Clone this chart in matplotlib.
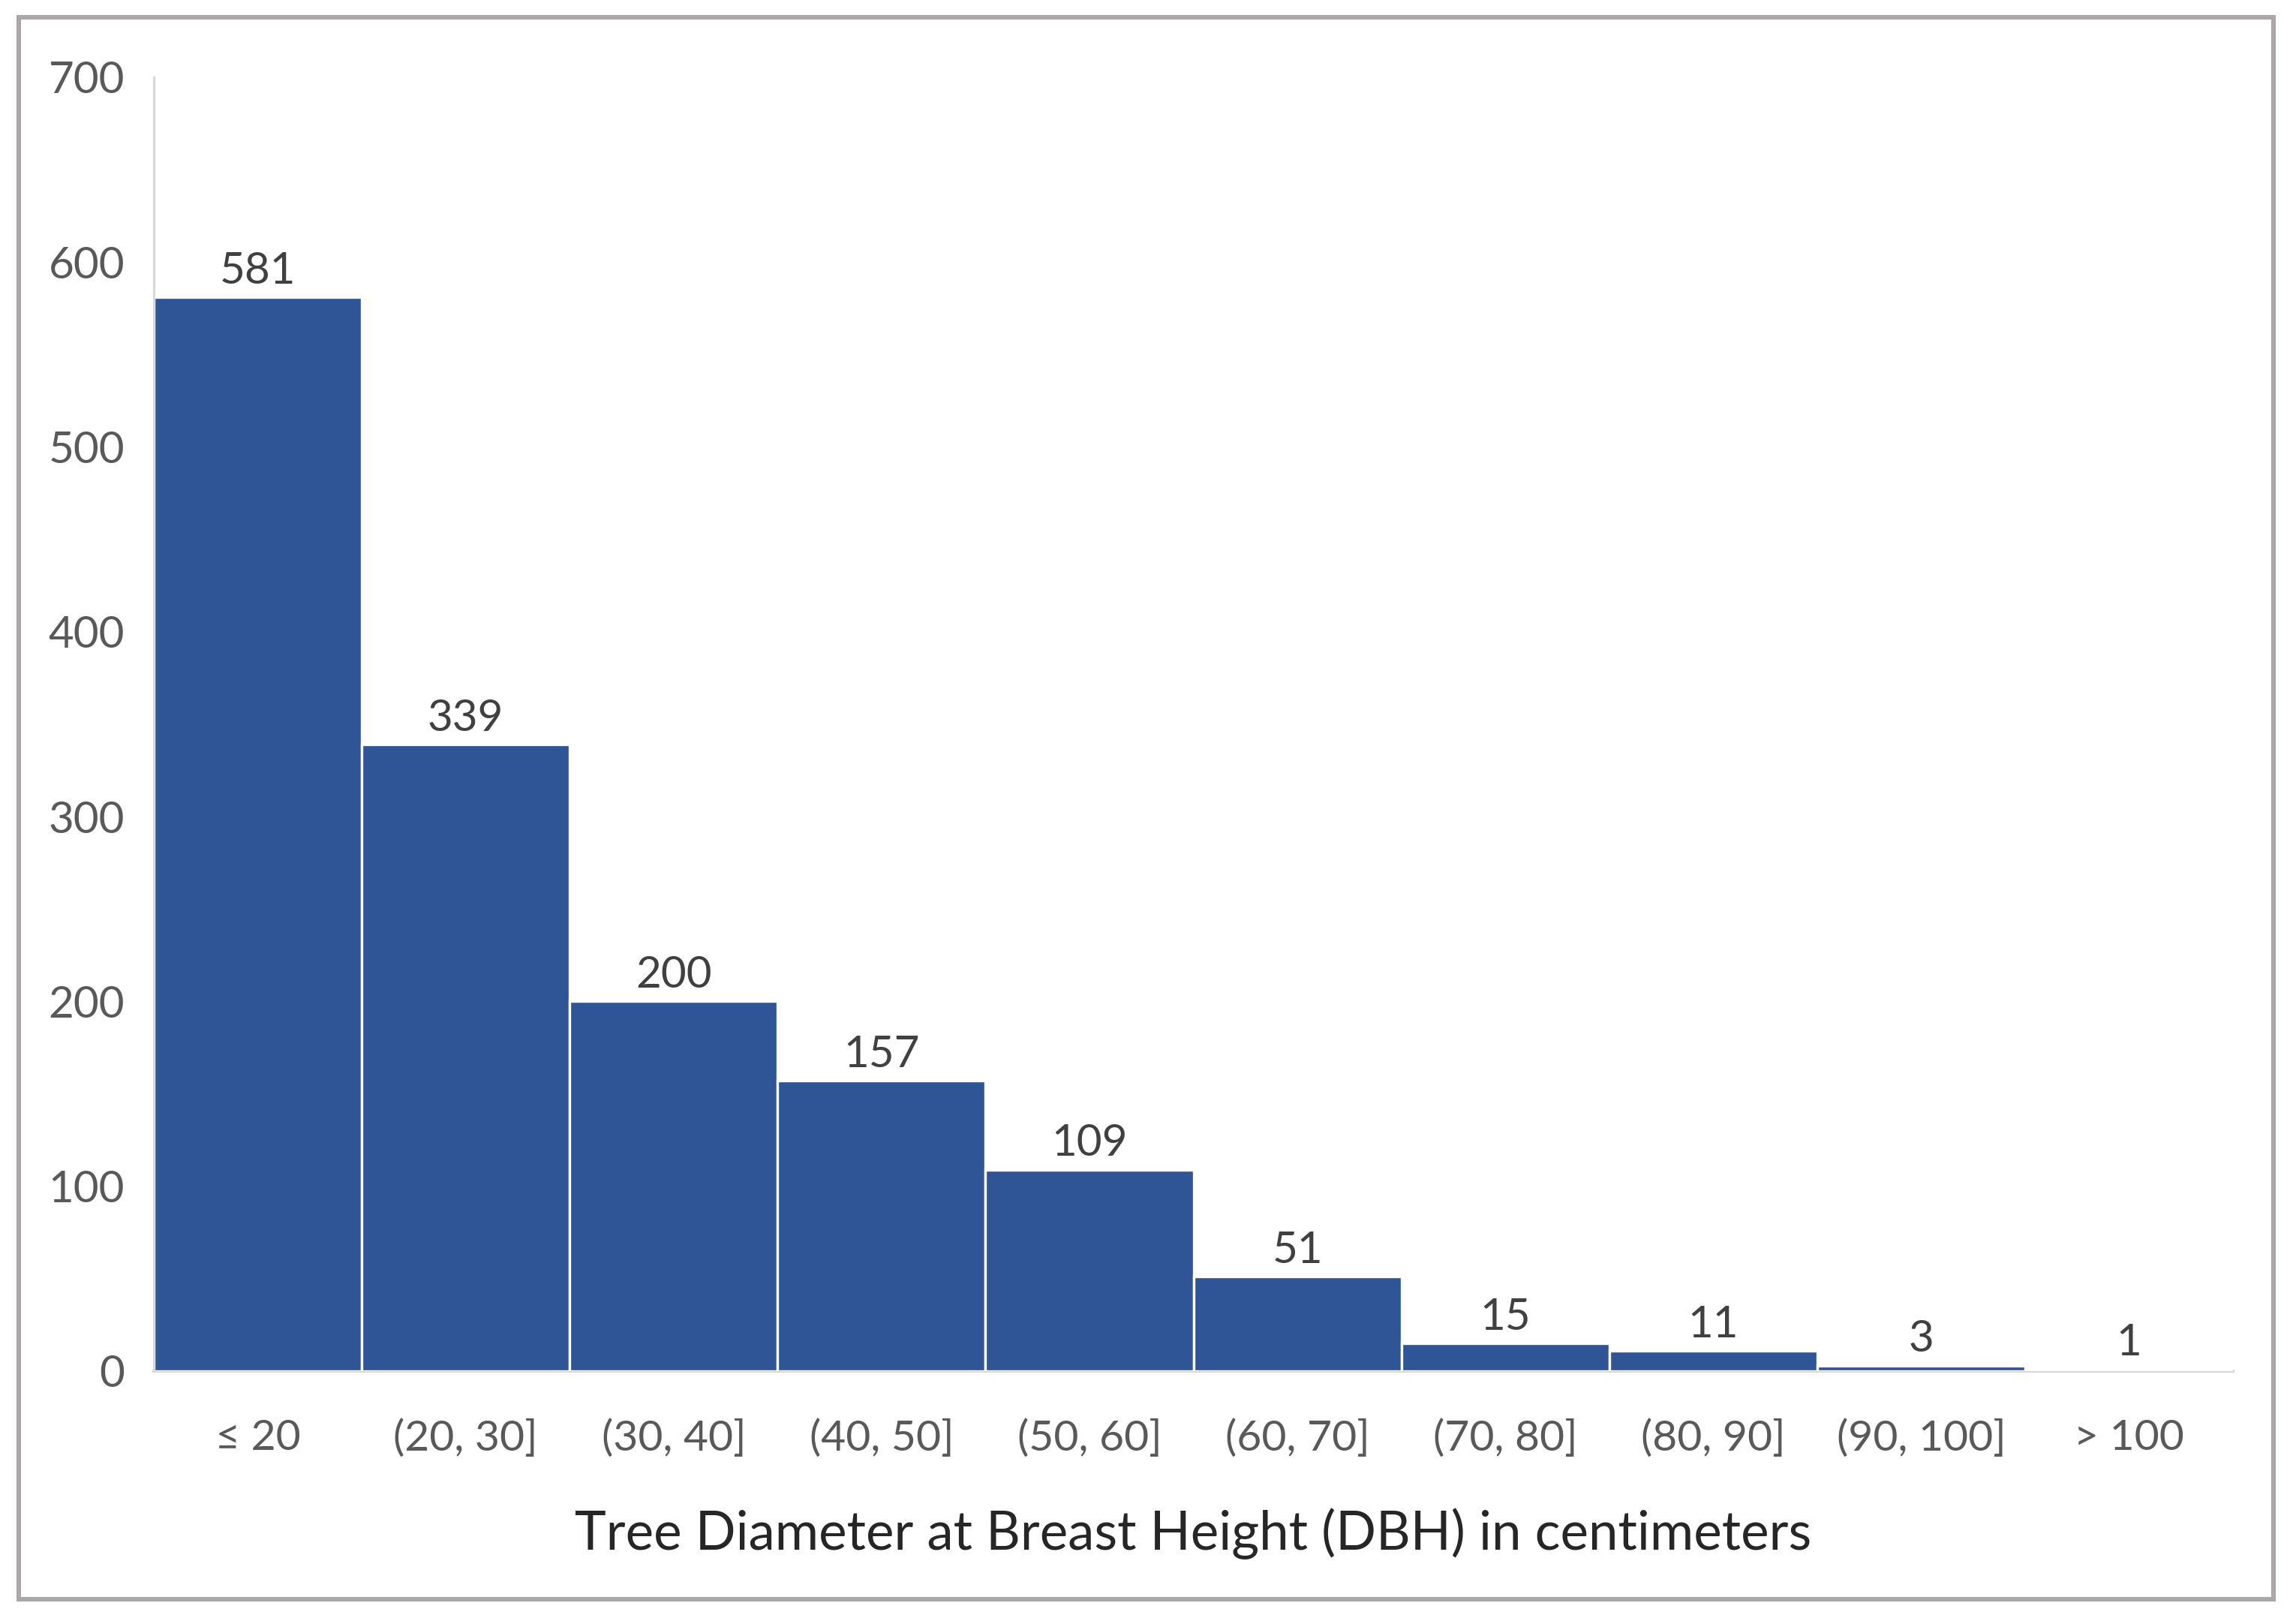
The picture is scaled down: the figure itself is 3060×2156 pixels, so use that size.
import matplotlib
matplotlib.use("Agg")
import matplotlib.pyplot as plt
from matplotlib.patches import Rectangle

categories = ["≤ 20", "(20, 30]", "(30, 40]", "(40, 50]", "(50, 60]",
              "(60, 70]", "(70, 80]", "(80, 90]", "(90, 100]", "> 100"]
counts = [581, 339, 200, 157, 109, 51, 15, 11, 3, 1]
yticks = [0, 100, 200, 300, 400, 500, 600, 700]
xlabel = "Tree Diameter at Breast Height (DBH) in centimeters"

plt.rcParams['font.family'] = ['Lato', 'DejaVu Sans']

DPI = 200
fig = plt.figure(figsize=(3060 / DPI, 2156 / DPI), dpi=DPI)
fig.patch.set_facecolor("white")

ax = fig.add_axes([205 / 3060, 1 - 1827 / 2156, (2976 - 205) / 3060, (1827 - 103) / 2156])

x = list(range(len(categories)))
bars = ax.bar(x, counts, width=1.0, color="#2F5597", edgecolor="white", linewidth=1.2, zorder=2)

for xi, v in zip(x, counts):
    ax.annotate(str(v), (xi, v), xytext=(0, 3), textcoords="offset points",
                ha="center", va="bottom", fontsize=21, color="#404040")

ax.set_xlim(-0.5, len(categories) - 0.5)
ax.set_ylim(0, 700)
ax.set_yticks(yticks)
ax.set_yticklabels([str(t) for t in yticks], fontsize=21, color="#595959")
ax.set_xticks(x)
ax.set_xticklabels(categories, fontsize=20.5, color="#595959")
ax.tick_params(axis="both", length=0)
ax.tick_params(axis="y", pad=14)
ax.tick_params(axis="x", pad=23)

for s in ["top", "right"]:
    ax.spines[s].set_visible(False)
ax.spines["left"].set_color("#D9D9D9")
ax.spines["left"].set_linewidth(1.2)
ax.spines["bottom"].set_color("#D9D9D9")
ax.spines["bottom"].set_linewidth(1.5)
ax.spines["bottom"].set_zorder(1)

ax.set_xlabel(xlabel, fontsize=25.5, color="#262626", labelpad=24)

# outer frame
fig.patches.append(Rectangle((25 / 3060, 1 - 2131 / 2156), (3030 - 25) / 3060, (2131 - 23) / 2156,
                             transform=fig.transFigure, fill=False, edgecolor="#ABA7A7",
                             linewidth=2.2, zorder=10))

fig.savefig("out.png", dpi=DPI, facecolor="white")
